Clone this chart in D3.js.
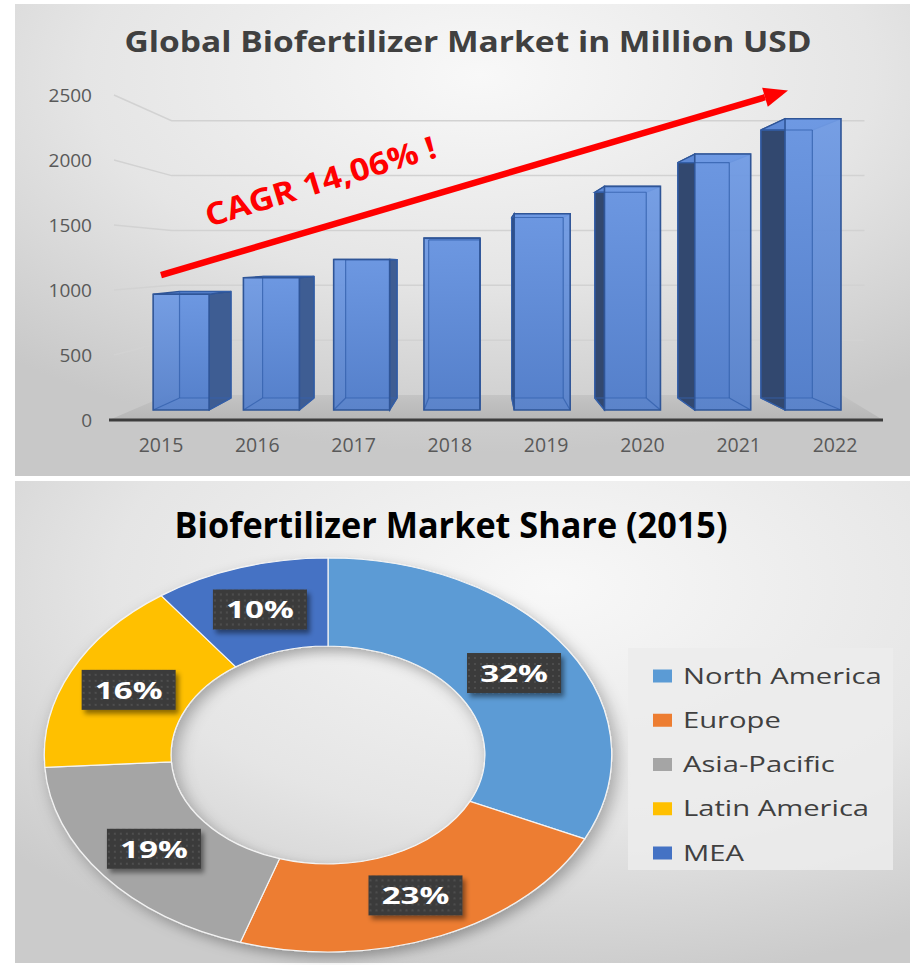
<html>
<head>
<style>
  body { margin: 0; background: #fff; }
  svg { display: block; }
</style>
</head>
<body>
<svg id="chart"></svg>
<script src="https://cdnjs.cloudflare.com/ajax/libs/d3/7.8.5/d3.min.js"></script>
<script>
// ---- data ----
var years = ["2015", "2016", "2017", "2018", "2019", "2020", "2021", "2022"];
var marketValues = [950, 1085, 1235, 1410, 1610, 1835, 2100, 2390];
var valueTicks = [0, 500, 1000, 1500, 2000, 2500];
var cagrLabel = "CAGR 14,06% !";

var regions = ["North America", "Europe", "Asia-Pacific", "Latin America", "MEA"];
var shares = [32, 23, 19, 16, 10];
var regionColors = ["#5b9bd5", "#ed7d31", "#a5a5a5", "#ffc000", "#4472c4"];

var svg = d3.select("#chart").attr("width", 912).attr("height", 965);
var defs = svg.append("defs");

// backgrounds
var topBg = defs.append("radialGradient").attr("id", "topBg")
    .attr("cx", 0.52).attr("cy", 0.15).attr("r", 0.8);
topBg.append("stop").attr("offset", "0%").attr("stop-color", "#f8f8f8");
topBg.append("stop").attr("offset", "55%").attr("stop-color", "#e5e5e5");
topBg.append("stop").attr("offset", "100%").attr("stop-color", "#c8c8c8");

var botBg = defs.append("radialGradient").attr("id", "botBg")
    .attr("cx", 0.6).attr("cy", 0.22).attr("r", 0.82);
botBg.append("stop").attr("offset", "0%").attr("stop-color", "#f8f8f8");
botBg.append("stop").attr("offset", "60%").attr("stop-color", "#e5e5e5");
botBg.append("stop").attr("offset", "100%").attr("stop-color", "#cbcbcb");

var floorFill = defs.append("linearGradient").attr("id", "floorFill")
    .attr("x1", 0).attr("y1", 0).attr("x2", 0).attr("y2", 1);
floorFill.append("stop").attr("offset", "0%").attr("stop-color", "#c4c4c4");
floorFill.append("stop").attr("offset", "100%").attr("stop-color", "#b6b6b6");

var barFront = defs.append("linearGradient").attr("id", "barFront")
    .attr("x1", 0).attr("y1", 0).attr("x2", 0).attr("y2", 1);
barFront.append("stop").attr("offset", "0%").attr("stop-color", "#6f9ae4");
barFront.append("stop").attr("offset", "100%").attr("stop-color", "#5580cb");

var shadow = defs.append("filter").attr("id", "shadow")
    .attr("x", "-20%").attr("y", "-20%").attr("width", "140%").attr("height", "140%");
shadow.append("feDropShadow").attr("dx", 3).attr("dy", 5).attr("stdDeviation", 6)
    .attr("flood-color", "#000").attr("flood-opacity", 0.3);

var boxShadow = defs.append("filter").attr("id", "boxShadow")
    .attr("x", "-30%").attr("y", "-30%").attr("width", "160%").attr("height", "170%");
boxShadow.append("feDropShadow").attr("dx", 3).attr("dy", 4).attr("stdDeviation", 2.5)
    .attr("flood-color", "#000").attr("flood-opacity", 0.45);

var dots = defs.append("pattern").attr("id", "dots")
    .attr("width", 6).attr("height", 6).attr("patternUnits", "userSpaceOnUse");
dots.append("rect").attr("width", 6).attr("height", 6).attr("fill", "#3b3b3b");
dots.append("circle").attr("cx", 3).attr("cy", 3).attr("r", 0.9).attr("fill", "#575757");

svg.append("rect").attr("x", 15).attr("y", 4).attr("width", 895).attr("height", 472)
    .attr("fill", "url(#topBg)");
svg.append("rect").attr("x", 15).attr("y", 481).attr("width", 895).attr("height", 482)
    .attr("fill", "url(#botBg)");

// ---- top: pseudo 3D column chart ----
var x = d3.scaleBand().domain(years).range([112.85, 883.15])
    .paddingInner(0.38).paddingOuter(0.19);
var y = d3.scaleLinear().domain([0, 2500]).range([420, 95]);

// simple perspective: s = 1 is the front of the floor
var vp = [483, 260];
var sFront = 0.9375, sBack = 0.8625, sWall = 0.844;
var wallLeft = 114, wallRight = 935, floorLeft = 109, floorRight = 883;

function P(px, py, s) {
    return [vp[0] + (px - vp[0]) * s, vp[1] + (py - vp[1]) * s];
}
function poly(pts) {
    return "M" + pts.map(p => p.join(",")).join("L") + "Z";
}

var barChart = svg.append("g");

barChart.append("text")
    .attr("x", 468).attr("y", 52)
    .attr("text-anchor", "middle")
    .attr("font-family", "Open Sans")
    .attr("font-weight", "bold")
    .attr("font-size", 28)
    .attr("fill", "#404040")
    .attr("textLength", 687)
    .attr("lengthAdjust", "spacingAndGlyphs")
    .text("Global Biofertilizer Market in Million USD");

// floor
barChart.append("path")
    .attr("d", poly([P(floorLeft, y(0), 1), P(floorRight, y(0), 1),
                     P(floorRight + 25, y(0), sWall), P(floorLeft, y(0), sWall)]))
    .attr("fill", "url(#floorFill)");

// gridlines on left and back walls
barChart.selectAll(".grid")
    .data(valueTicks.filter(v => v > 0))
    .enter()
    .append("path")
    .attr("class", "grid")
    .attr("d", v => "M" + [P(wallLeft, y(v), 1), P(wallLeft, y(v), sWall), P(wallRight, y(v), sWall)]
        .map(p => p.join(",")).join("L"))
    .attr("fill", "none")
    .attr("stroke", "#d2d2d2")
    .attr("stroke-width", 1.5);

// value labels
barChart.selectAll(".ytick")
    .data(valueTicks)
    .enter()
    .append("text")
    .attr("class", "ytick")
    .attr("x", 92)
    .attr("y", v => y(v) + 6.5)
    .attr("text-anchor", "end")
    .attr("font-family", "Open Sans")
    .attr("font-size", 19)
    .attr("fill", "#595959")
    .text(v => v);

// bars
var barData = years.map((yr, i) => ({ year: yr, value: marketValues[i] }));

barChart.selectAll(".bar")
    .data(barData)
    .enter()
    .append("g")
    .attr("class", "bar")
    .each(function(d) {
        var g = d3.select(this);
        var x0 = x(d.year), x1 = x0 + x.bandwidth();
        var yb = y(0), yt = y(d.value);
        var rightSide = (x0 + x1) / 2 < vp[0];
        var xs = rightSide ? x1 : x0;

        g.append("path")
            .attr("d", poly([P(x0, yt, sBack), P(x1, yt, sBack), P(x1, yb, sBack), P(x0, yb, sBack)]))
            .attr("fill", "#4870b8");
        g.append("path")
            .attr("d", poly([P(xs, yt, sFront), P(xs, yt, sBack), P(xs, yb, sBack), P(xs, yb, sFront)]))
            .attr("fill", rightSide ? "#3e5d93" : "#32486f")
            .attr("stroke", "#2f5597").attr("stroke-width", 1.3);
        g.append("path")
            .attr("d", poly([P(x0, yt, sFront), P(x1, yt, sFront), P(x1, yt, sBack), P(x0, yt, sBack)]))
            .attr("fill", "#5d89d6")
            .attr("stroke", "#2f5597").attr("stroke-width", 1.3);
        g.append("path")
            .attr("d", poly([P(x0, yt, sFront), P(x1, yt, sFront), P(x1, yb, sFront), P(x0, yb, sFront)]))
            .attr("fill", "url(#barFront)")
            .attr("fill-opacity", 0.94);

        // edges seen through the front face
        var inner = [
            [P(x0, yt, sBack), P(x0, yb, sBack)],
            [P(x1, yt, sBack), P(x1, yb, sBack)],
            [P(x0, yb, sBack), P(x1, yb, sBack)],
            [P(x0, yt, sBack), P(x1, yt, sBack)],
            [P(x0, yb, sFront), P(x0, yb, sBack)],
            [P(x1, yb, sFront), P(x1, yb, sBack)]
        ];
        g.selectAll("line")
            .data(inner)
            .enter()
            .append("line")
            .attr("x1", e => e[0][0]).attr("y1", e => e[0][1])
            .attr("x2", e => e[1][0]).attr("y2", e => e[1][1])
            .attr("stroke", "#3462ae")
            .attr("stroke-opacity", 0.8)
            .attr("stroke-width", 1.2);

        g.append("path")
            .attr("d", poly([P(x0, yt, sFront), P(x1, yt, sFront), P(x1, yb, sFront), P(x0, yb, sFront)]))
            .attr("fill", "none")
            .attr("stroke", "#2f5597").attr("stroke-width", 1.6);
    });

// front axis line
barChart.append("line")
    .attr("x1", floorLeft).attr("x2", floorRight)
    .attr("y1", y(0)).attr("y2", y(0))
    .attr("stroke", "#3d3d3d")
    .attr("stroke-width", 3);

// year labels
barChart.selectAll(".xtick")
    .data(years)
    .enter()
    .append("text")
    .attr("class", "xtick")
    .attr("x", d => x(d) + x.bandwidth() / 2)
    .attr("y", 452)
    .attr("text-anchor", "middle")
    .attr("font-family", "Open Sans")
    .attr("font-size", 19.5)
    .attr("fill", "#595959")
    .text(d => d);

// CAGR arrow
var arrowFrom = [x("2015") + x.bandwidth() / 2, y(1115)];
var arrowTo = [x("2022") + x.bandwidth() / 2 - 47, y(2535)];
var ang = Math.atan2(arrowTo[1] - arrowFrom[1], arrowTo[0] - arrowFrom[0]);
var headLen = 24, headW = 10;
var base = [arrowTo[0] - headLen * Math.cos(ang), arrowTo[1] - headLen * Math.sin(ang)];

barChart.append("line")
    .attr("x1", arrowFrom[0]).attr("y1", arrowFrom[1])
    .attr("x2", base[0]).attr("y2", base[1])
    .attr("stroke", "#ff0000")
    .attr("stroke-width", 6.5);
barChart.append("path")
    .attr("d", poly([arrowTo,
        [base[0] + headW * Math.sin(ang), base[1] - headW * Math.cos(ang)],
        [base[0] - headW * Math.sin(ang), base[1] + headW * Math.cos(ang)]]))
    .attr("fill", "#ff0000");

barChart.append("text")
    .attr("transform", "translate(209,227) rotate(-17)")
    .attr("font-family", "Open Sans")
    .attr("font-weight", "bold")
    .attr("font-size", 31)
    .attr("fill", "#ff0000")
    .attr("textLength", 240)
    .attr("lengthAdjust", "spacingAndGlyphs")
    .text(cagrLabel);

// ---- bottom: donut chart ----
var stretch = 1.44;
var center = [328, 755];
var donutChart = svg.append("g");

donutChart.append("text")
    .attr("x", 451).attr("y", 538)
    .attr("text-anchor", "middle")
    .attr("font-family", "Open Sans")
    .attr("font-weight", "bold")
    .attr("font-size", 35)
    .attr("fill", "#000")
    .attr("textLength", 553)
    .attr("lengthAdjust", "spacingAndGlyphs")
    .text("Biofertilizer Market Share (2015)");

var shareData = regions.map((r, i) => ({ region: r, share: shares[i], color: regionColors[i] }));
var pie = d3.pie().sort(null).value(d => d.share);
var arc = d3.arc().innerRadius(109).outerRadius(197);
var arcs = pie(shareData);

var donut = donutChart.append("g")
    .attr("transform", "translate(" + center[0] + "," + center[1] + ") scale(" + stretch + ",1)")
    .attr("filter", "url(#shadow)");

donut.selectAll("path")
    .data(arcs)
    .enter()
    .append("path")
    .attr("d", arc)
    .attr("fill", d => d.data.color)
    .attr("stroke", "#f4f4f4")
    .attr("stroke-width", 1.2)
    .attr("vector-effect", "non-scaling-stroke");

function stretchText(sel, k) {
    sel.each(function() {
        var w = this.getComputedTextLength();
        d3.select(this).attr("textLength", w * k).attr("lengthAdjust", "spacingAndGlyphs");
    });
}

var labels = donutChart.selectAll(".slice-label")
    .data(arcs)
    .enter()
    .append("g")
    .attr("class", "slice-label")
    .attr("transform", d => {
        var c = arc.centroid(d);
        return "translate(" + (center[0] + c[0] * stretch) + "," + (center[1] + c[1]) + ")";
    });

labels.append("rect")
    .attr("x", -47).attr("y", -20)
    .attr("width", 94).attr("height", 40)
    .attr("fill", "url(#dots)")
    .attr("filter", "url(#boxShadow)");

labels.append("text")
    .attr("y", 9)
    .attr("text-anchor", "middle")
    .attr("font-family", "Open Sans")
    .attr("font-weight", "bold")
    .attr("font-size", 24)
    .attr("fill", "#fff")
    .text(d => d.data.share + "%")
    .call(stretchText, 1.38);

// legend
var legend = donutChart.append("g").attr("transform", "translate(628,648)");
legend.append("rect")
    .attr("width", 265).attr("height", 222)
    .attr("fill", "#ececec")
    .attr("fill-opacity", 0.85);

var legendY = d3.scalePoint().domain(regions).range([28, 205]);

var items = legend.selectAll(".item")
    .data(shareData)
    .enter()
    .append("g")
    .attr("class", "item")
    .attr("transform", d => "translate(0," + legendY(d.region) + ")");

items.append("rect")
    .attr("x", 25).attr("y", -6.5)
    .attr("width", 19).attr("height", 13)
    .attr("fill", d => d.color);

items.append("text")
    .attr("x", 55).attr("y", 7.5)
    .attr("font-family", "Open Sans")
    .attr("font-size", 21)
    .attr("fill", "#404040")
    .text(d => d.region)
    .call(stretchText, 1.39);
</script>
</body>
</html>
